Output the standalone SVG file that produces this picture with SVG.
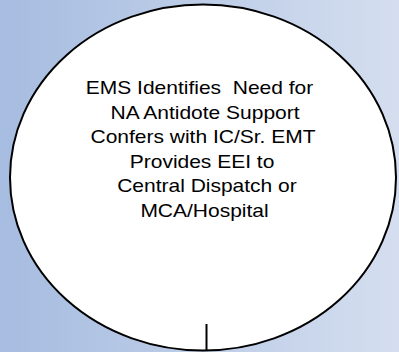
<svg xmlns="http://www.w3.org/2000/svg" width="399" height="352" viewBox="0 0 399 352">
  <defs>
    <linearGradient id="bg" x1="0" y1="0" x2="1" y2="0">
      <stop offset="0" stop-color="#a6bce0"/>
      <stop offset="1" stop-color="#d4deef"/>
    </linearGradient>
    <style>
      .node { fill: #ffffff; stroke: #000000; stroke-width: 2; }
      .label { font-family: "Liberation Sans", Arial, sans-serif; font-size: 17.5px; fill: #000000; text-anchor: middle; white-space: pre; }
      .conn { stroke: #000000; stroke-width: 2; fill: none; }
    </style>
  </defs>
  <rect x="0" y="0" width="399" height="352" fill="url(#bg)"/>
  <g id="node-ems">
    <ellipse class="node" cx="203" cy="177.5" rx="193" ry="173"/>
    <g transform="translate(203 0) scale(1.2 1)">
      <text class="label" x="-2.9" y="94.5" xml:space="preserve">EMS Identifies  Need for</text>
      <text class="label" x="1.7" y="119">NA Antidote Support</text>
      <text class="label" x="0" y="143.5">Confers with IC/Sr. EMT</text>
      <text class="label" x="-0.8" y="168">Provides EEI to</text>
      <text class="label" x="3.3" y="192.5">Central Dispatch or</text>
      <text class="label" x="1.25" y="217">MCA/Hospital</text>
    </g>
  </g>
  <g id="connectors">
    <line class="conn" x1="206.5" y1="324" x2="206.5" y2="351"/>
  </g>
</svg>
